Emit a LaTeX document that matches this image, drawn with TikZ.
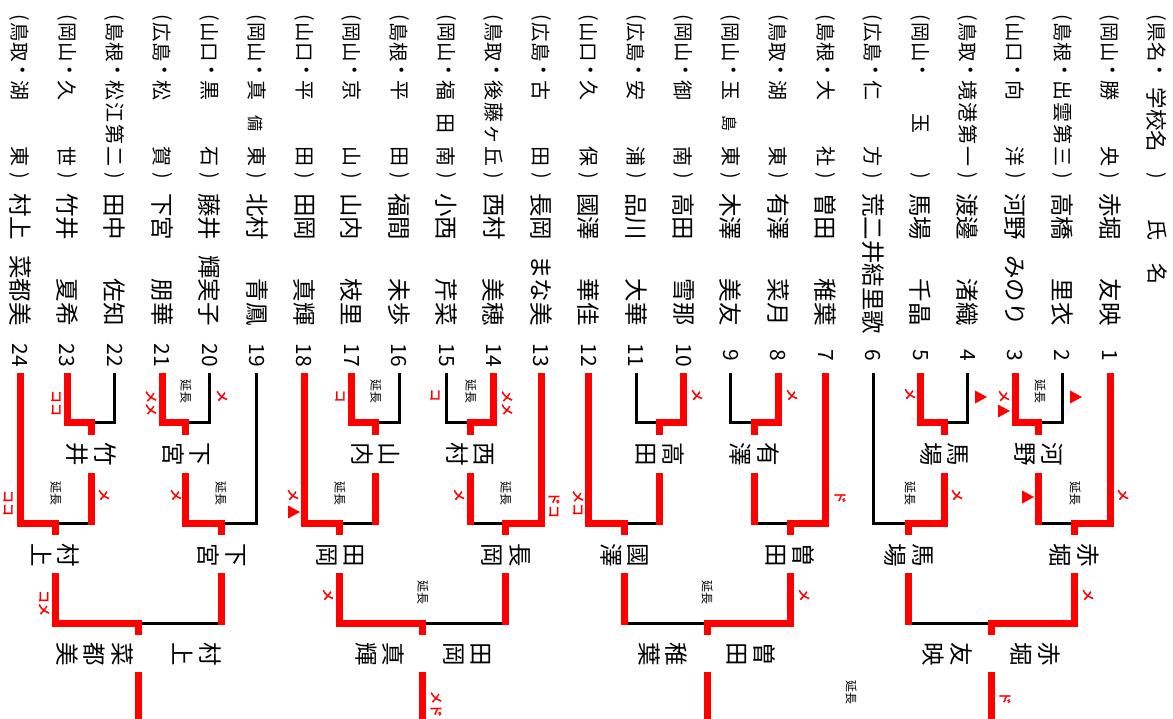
\documentclass[tikz,border=0pt]{standalone}
\usepackage{fontspec}
\setmainfont{Noto Sans CJK JP}
\newfontfamily\markfont[FakeBold=2.5]{Noto Sans CJK JP}
\usetikzlibrary{calc}
\newcommand\fsz[1]{\fontsize{#1}{#1}\selectfont}
\tikzset{
  txt/.style={rotate=-90, inner sep=0pt, text=black},
  bn/.style={rotate=-90, inner sep=0pt, align=center, font=\fontsize{23.5}{27.5}\selectfont},
  rd/.style={draw=red, line width=7pt},
  bl/.style={draw=black, line width=3pt},
  mk/.style={rotate=-90, inner sep=0pt, text=red, font=\markfont\fsz{13}},
  en/.style={rotate=-90, inner sep=0pt, font=\fsz{12}},
}
\newcommand\player[5]{%
  \pgfmathsetmacro\px{1110-47.39*(#1-1)}%
  \coordinate (p#1) at (\px,373);
  \node[txt,font=\fsz{19.5}] (lp#1) at (\px,17.5) {(};
  \node[txt,font=\fsz{19.5}] (pf#1) at (\px,42.5) {#2};
  \node[txt,font=\fsz{19.5}] (dt#1) at (\px,70) {・};
  \node[txt,font=\fsz{20}] (sc#1) at (\px,124) {\makebox[86pt]{#3}};
  \node[txt,font=\fsz{19.5}] (rp#1) at (\px,176) {)};
  \node[txt,font=\fsz{23.5},anchor=west] (fn#1) at (\px,193) {#4};
  \node[txt,font=\fsz{23.5},anchor=east] (gn#1) at (\px,326) {#5};
  \node[txt,font=\fsz{21}] (no#1) at (\px,355) {#1};
}
\newcommand\tri[3]{\fill[red] (#2-6,#3-6.5) -- (#2+6,#3) -- (#2-6,#3+6.5) -- cycle;}
% loser coming from a name node: red vertical + black bar
\newcommand\lossn[3]{%
  \draw[bl] (#1.center |- #2) -- (#2);
  \draw[rd] ($(#1.center)+(0,#3)$) -- ($(#1.center |- #2)+(0,1.5)$);
}
\begin{document}
\begin{tikzpicture}[x=1pt,y=-1pt]
\useasboundingbox (0,0) rectangle (1173,719);
\fill[white] (0,0) rectangle (1173,719);
% header
\node[txt,font=\fsz{19.5}] (hlp) at (1157,17.5) {(};
\node[txt,font=\fsz{19.5}] (hpf) at (1157,42.5) {県名};
\node[txt,font=\fsz{19.5}] (hdt) at (1157,70) {・};
\node[txt,font=\fsz{21.5}] (hsc) at (1157,120) {学校名};
\node[txt,font=\fsz{19.5}] (hrp) at (1157,176) {)};
\node[txt,font=\fsz{21}] (hs1) at (1157,230) {氏};
\node[txt,font=\fsz{21}] (hs2) at (1157,274) {名};
% players
\player{1}{岡山}{勝\hfill 央}{赤堀}{友映}
\player{2}{島根}{出\hfill 雲\hfill 第\hfill 三}{高橋}{里衣}
\player{3}{山口}{向\hfill 洋}{河野}{みのり}
\player{4}{鳥取}{境\hfill 港\hfill 第\hfill 一}{渡邊}{渚織}
\player{5}{岡山}{玉}{馬場}{千晶}
\player{6}{広島}{仁\hfill 方}{荒二井結里歌}{}
\player{7}{島根}{大\hfill 社}{曽田}{稚葉}
\player{8}{鳥取}{湖\hfill 東}{有澤}{菜月}
\player{9}{岡山}{玉\hfill {\fsz{16}島}\hfill 東}{木澤}{美友}
\player{10}{岡山}{御\hfill 南}{高田}{雪那}
\player{11}{広島}{安\hfill 浦}{品川}{大華}
\player{12}{山口}{久\hfill 保}{國澤}{華佳}
\player{13}{広島}{古\hfill 田}{長岡}{まな美}
\player{14}{鳥取}{後\hfill 藤\hfill ヶ\hfill 丘}{西村}{美穂}
\player{15}{岡山}{福\hfill 田\hfill 南}{小西}{芹菜}
\player{16}{島根}{平\hfill 田}{福間}{未歩}
\player{17}{岡山}{京\hfill 山}{山内}{枝里}
\player{18}{山口}{平\hfill 田}{田岡}{真輝}
\player{19}{岡山}{真\hfill {\fsz{16}備}\hfill 東}{北村}{青鳳}
\player{20}{山口}{黒\hfill 石}{藤井}{輝実子}
\player{21}{広島}{松\hfill 賀}{下宮}{朋華}
\player{22}{島根}{松\hfill 江\hfill 第\hfill 二}{田中}{佐知}
\player{23}{岡山}{久\hfill 世}{竹井}{夏希}
\player{24}{鳥取}{湖\hfill 東}{村上}{菜都美}
% bracket coordinates
\coordinate (mA1) at (1038.9,422); \coordinate (mA2) at (944.1,422);
\coordinate (mB1) at (754.6,422);  \coordinate (mB2) at (659.8,422);
\coordinate (mC1) at (470.2,422);  \coordinate (mC2) at (375.5,422);
\coordinate (mD1) at (185.9,422);  \coordinate (mD2) at (91.1,422);
\coordinate (nA1) at (1074.5,523); \coordinate (nA2) at (908.6,523);
\coordinate (nB1) at (790.1,523);  \coordinate (nB2) at (624.2,523);
\coordinate (nC1) at (505.8,523);  \coordinate (nC2) at (339.9,523);
\coordinate (nD1) at (221.4,523);  \coordinate (nD2) at (55.6,523);
\coordinate (oA) at (991.5,623); \coordinate (oB) at (707.2,623);
\coordinate (oC) at (422.9,623); \coordinate (oD) at (138.5,623);
% names in bracket
\node[bn] (wA1) at (1038.9,454) {河\\野};
\node[bn] (wA2) at (944.1,454) {馬\\場};
\node[bn] (wB1) at (754.6,454) {有\\澤};
\node[bn] (wB2) at (659.8,454) {高\\田};
\node[bn] (wC1) at (470.2,454) {西\\村};
\node[bn] (wC2) at (375.5,454) {山\\内};
\node[bn] (wD1) at (185.9,454) {下\\宮};
\node[bn] (wD2) at (91.1,454) {竹\\井};
\node[bn] (vA1) at (1074.5,555) {赤\\堀};
\node[bn] (vA2) at (908.6,555) {馬\\場};
\node[bn] (vB1) at (790.1,555) {曽\\田};
\node[bn] (vB2) at (624.2,555) {國\\澤};
\node[bn] (vC1) at (505.8,555) {長\\岡};
\node[bn] (vC2) at (339.9,555) {田\\岡};
\node[bn] (vD1) at (221.4,555) {下\\宮};
\node[bn] (vD2) at (55.6,555) {村\\上};
\node[bn] (fA) at (991.5,654) {赤\\堀\\[33pt]友\\映};
\node[bn] (fB) at (707.2,654) {曽\\田\\[33pt]稚\\葉};
\node[bn] (fC) at (422.9,654) {田\\岡\\[33pt]真\\輝};
\node[bn] (fD) at (138.5,654) {村\\上\\[33pt]菜\\都\\美};
% ---- round 1
\draw[bl] (p2) |- (mA1);  \draw[rd] (p3) |- (mA1) -- ++(0,13);
\draw[bl] (p4) |- (mA2);  \draw[rd] (p5) |- (mA2) -- ++(0,13);
\draw[bl] (p9) |- (mB1);  \draw[rd] (p8) |- (mB1) -- ++(0,13);
\draw[bl] (p11) |- (mB2); \draw[rd] (p10) |- (mB2) -- ++(0,13);
\draw[bl] (p15) |- (mC1); \draw[rd] (p14) |- (mC1) -- ++(0,13);
\draw[bl] (p16) |- (mC2); \draw[rd] (p17) |- (mC2) -- ++(0,13);
\draw[bl] (p20) |- (mD1); \draw[rd] (p21) |- (mD1) -- ++(0,13);
\draw[bl] (p22) |- (mD2); \draw[rd] (p23) |- (mD2) -- ++(0,13);
% ---- round 2
\lossn{wA1}{nA1}{19} \draw[rd] (p1) |- (nA1) -- ++(0,12);
\draw[bl] (p6) |- (nA2); \draw[rd] ($(wA2.center)+(0,19)$) |- (nA2) -- ++(0,12);
\lossn{wB1}{nB1}{19} \draw[rd] (p7) |- (nB1) -- ++(0,12);
\lossn{wB2}{nB2}{19} \draw[rd] (p12) |- (nB2) -- ++(0,12);
\lossn{wC1}{nC1}{19} \draw[rd] (p13) |- (nC1) -- ++(0,12);
\lossn{wC2}{nC2}{19} \draw[rd] (p18) |- (nC2) -- ++(0,12);
\draw[bl] (p19) |- (nD1); \draw[rd] ($(wD1.center)+(0,19)$) |- (nD1) -- ++(0,12);
\lossn{wD2}{nD2}{19} \draw[rd] (p24) |- (nD2) -- ++(0,12);
% ---- round 3
\lossn{vA2}{oA}{18} \draw[rd] ($(vA1.center)+(0,18)$) |- (oA) -- ++(0,12);
\lossn{vB2}{oB}{18} \draw[rd] ($(vB1.center)+(0,18)$) |- (oB) -- ++(0,12);
\lossn{vC1}{oC}{18} \draw[rd] ($(vC2.center)+(0,18)$) |- (oC) -- ++(0,12);
\lossn{vD1}{oD}{18} \draw[rd] ($(vD2.center)+(0,18)$) |- (oD) -- ++(0,12);
% ---- final lines
\draw[rd] ($(fA.center)+(0,18)$) -- ++(0,50);
\draw[rd] ($(fB.center)+(0,18)$) -- ++(0,50);
\draw[rd] ($(fC.center)+(0,18)$) -- ++(0,50);
\draw[rd] ($(fD.center)+(0,18)$) -- ++(0,50);
% ---- marks group A
\node[mk] (kA1) at (1004,396) {メ};
\tri{tA1}{1004}{411}
\tri{tA2}{1076}{397}
\node[en] (eA1) at (1040,392) {延長};
\node[mk] (kA2) at (910,394) {メ};
\tri{tA3}{981}{397}
\node[mk] (kA3) at (1123,495) {メ};
\tri{tA4}{1028}{497}
\node[en] (eA2) at (1075,493) {延長};
\node[mk] (kA4) at (957,495) {メ};
\node[en] (eA3) at (910,493) {延長};
\node[mk] (kA5) at (1088,595) {メ};
\node[mk] (kA6) at (1005,698) {ド};
\node[en] (eA4) at (851,692) {延長};
% group B
\node[mk] (kB1) at (792,395) {メ};
\node[mk] (kB2) at (697,395) {メ};
\node[mk] (kB3) at (840,497) {ド};
\node[mk] (kB4) at (578,503) {メコ};
\node[mk] (kB5) at (804,595) {メ};
\node[en] (eB1) at (707,592) {延長};
% group C
\node[mk] (kC1) at (507,403) {メメ};
\node[mk] (kC2) at (435,395) {コ};
\node[en] (eC1) at (471,392) {延長};
\node[mk] (kC3) at (340,396) {コ};
\node[en] (eC2) at (376,392) {延長};
\node[mk] (kC4) at (554,505) {ドコ};
\node[mk] (kC5) at (459,495) {メ};
\node[en] (eC3) at (506,493) {延長};
\node[mk] (kC6) at (293,495) {メ};
\tri{tC1}{294}{512}
\node[en] (eC4) at (340,493) {延長};
\node[mk] (kC7) at (328,595) {メ};
\node[en] (eC5) at (423,592) {延長};
\node[mk] (kC8) at (436,704) {メド};
% group D
\node[mk] (kD1) at (151,403) {メメ};
\node[mk] (kD2) at (222,396) {メ};
\node[en] (eD1) at (186,392) {延長};
\node[mk] (kD3) at (56,403) {ココ};
\node[mk] (kD4) at (176,495) {メ};
\node[en] (eD2) at (221,493) {延長};
\node[mk] (kD5) at (104,495) {メ};
\node[mk] (kD6) at (8,503) {ココ};
\node[en] (eD3) at (56,493) {延長};
\node[mk] (kD7) at (44,603) {コメ};
\end{tikzpicture}
\end{document}
